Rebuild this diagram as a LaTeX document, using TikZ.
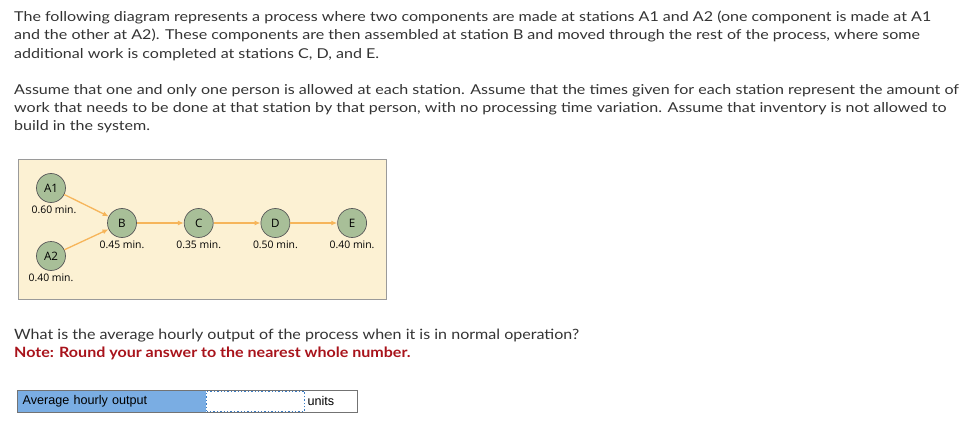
\documentclass[tikz,border=0pt]{standalone}
\usepackage{fontspec}
\setmainfont{Lato}
\newfontfamily\widefont[FakeStretch=1.18]{Lato}
\newfontfamily\askfont[FakeStretch=1.13]{Lato}
\newfontfamily\diagfont{Open Sans}
\newfontfamily\formfont{Liberation Sans}
\usetikzlibrary{positioning,arrows.meta}

\definecolor{panelfill}{HTML}{FCF1D3}
\definecolor{panelline}{HTML}{9A9A9A}
\definecolor{stationfill}{HTML}{A8BF98}
\definecolor{floworange}{HTML}{F6B55A}
\definecolor{noteRed}{HTML}{A8131B}
\definecolor{cellblue}{HTML}{7AADE3}
\definecolor{dotblue}{HTML}{3A7CC4}
\definecolor{textgray}{HTML}{333333}

\begin{document}
\begin{tikzpicture}[x=1pt,y=-1pt,
        station/.style={circle,draw=black!65,fill=stationfill,line width=0.7pt,
                minimum size=29pt,inner sep=0pt,font=\diagfont\fontsize{11.6}{13}\selectfont},
        timelabel/.style={inner sep=1pt,font=\diagfont\fontsize{10.4}{12}\selectfont},
        flow/.style={-{Latex[length=6pt,width=5pt]},draw=floworange,line width=1.3pt},
        para/.style={anchor=north west,align=left,inner sep=0pt,text=textgray,
                font=\widefont\fontsize{13.6}{18.2}\selectfont},
        node distance=47pt]

    \useasboundingbox (0,0) rectangle (965,422);

    % question text
    \node[para] (intro) at (14,11) {The following diagram represents a process where two components are made at stations A1 and A2 (one component is made at A1\\
        and the other at A2). These components are then assembled at station B and moved through the rest of the process, where some\\
        additional work is completed at stations C, D, and E.};
    \node[para] (rules) at (14,84) {Assume that one and only one person is allowed at each station. Assume that the times given for each station represent the amount of\\
        work that needs to be done at that station by that person, with no processing time variation. Assume that inventory is not allowed to\\
        build in the system.};

    % process panel
    \node[draw=panelline,fill=panelfill,line width=0.8pt,minimum width=368pt,minimum height=140pt,
          anchor=north west,inner sep=0pt] (panel) at (18,159) {};

    \node[station] (A1) at (51,188) {A1};
    \node[station] (A2) at (51,256) {A2};
    \node[station] (B) at (122,223) {B};
    \node[station,right=of B] (C) {C};
    \node[station,right=of C] (D) {D};
    \node[station,right=of D] (E) {E};

    \node[timelabel,below=2pt of A1,xshift=3pt] (tA1) {0.60 min.};
    \node[timelabel,below=2pt of A2] (tA2) {0.40 min.};
    \node[timelabel,below=2pt of B] (tB) {0.45 min.};
    \node[timelabel,below=2pt of C] (tC) {0.35 min.};
    \node[timelabel,below=2pt of D] (tD) {0.50 min.};
    \node[timelabel,below=2pt of E] (tE) {0.40 min.};

    \draw[flow] (A1) -- (B);
    \draw[flow] (A2) -- (B);
    \draw[flow] (B) -- (C);
    \draw[flow] (C) -- (D);
    \draw[flow] (D) -- (E);

    % question
    \node[para,font=\askfont\fontsize{14.2}{18}\selectfont] (ask) at (14,329) {What is the average hourly output of the process when it is in normal operation?};
    \node[para,text=noteRed,font=\askfont\bfseries\fontsize{14.2}{18}\selectfont,below=4pt of ask.south west,anchor=north west] (note) {Note: Round your answer to the nearest whole number.};

    % answer row
    \node[draw=black!55,line width=0.9pt,minimum width=340pt,minimum height=22pt,
          anchor=north west,inner sep=0pt] (row) at (17,390) {};
    \node[fill=cellblue,minimum width=188pt,minimum height=21pt,anchor=west,inner sep=0pt,
          text width=184pt,font=\formfont\fontsize{12.6}{15}\selectfont] (cell) at ([xshift=0.5pt]row.west) {\hspace*{3pt}Average hourly output};
    \node[draw=dotblue,dotted,line width=1.4pt,minimum width=98pt,minimum height=20pt,
          anchor=west,inner sep=0pt,right=0pt of cell] (answer) {};
    \node[anchor=west,inner sep=2pt,font=\formfont\fontsize{12.6}{15}\selectfont,right=0pt of answer] (units) {units};
\end{tikzpicture}
\end{document}
